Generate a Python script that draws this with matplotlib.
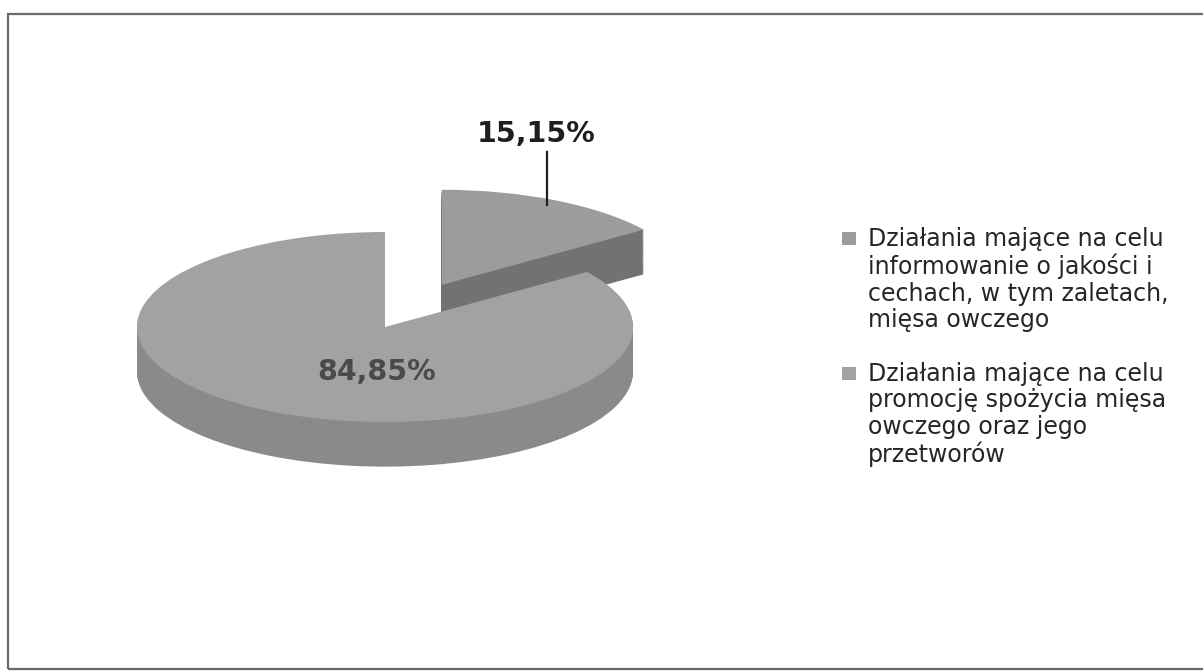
import matplotlib
matplotlib.use('Agg')
import matplotlib.pyplot as plt
from matplotlib.patches import Rectangle

# data
labels = [
    'Działania mające na celu\ninformowanie o jakości i\ncechach, w tym zaletach,\nmięsa owczego',
    'Działania mające na celu\npromocję spożycia mięsa\nowczego oraz jego\nprzetworów',
]
values = [15.15, 84.85]
explode = [0.5, 0.0]

top_colors = ['#9c9c9c', '#a2a2a2']
side_colors = ['#727272', '#8a8a8a']

plt.rcParams['font.family'] = ['DejaVu Sans']

W, H = 1203, 672
fig = plt.figure(figsize=(W / 100, H / 100), dpi=100)
fig.patch.set_facecolor('white')

# pie axes: x range 3 units -> 744 px, y range 4 units -> 380 px (squashed ellipse)
cx, cy = 385, 327
ax = fig.add_axes([(cx - 372) / W, (H - cy - 190) / H, 744 / W, 380 / H])

depth = 0.47
n_layers = 47
for i in range(n_layers + 1):
    off = -depth + depth * i / n_layers
    last = i == n_layers
    wedges, _ = ax.pie(values, explode=explode, startangle=90, counterclock=False,
                       colors=top_colors if last else side_colors,
                       center=(0, off), radius=1.0,
                       wedgeprops=dict(linewidth=0))
top_wedges = wedges

ax.set_aspect('auto')
ax.set_xlim(-1.5, 1.5)
ax.set_ylim(-2, 2)
ax.axis('off')

fmt = [f'{v:.2f}%'.replace('.', ',') for v in values]

# small slice label with leader line
ax.text(0.61, 2.03, fmt[0], ha='center', va='center', fontsize=20.5,
        fontweight='bold', color='#1e1e1e')
ax.plot([0.655, 0.655], [1.84, 1.28], color='#1e1e1e', lw=1.6)

# big slice label
ax.text(-0.036, -0.47, fmt[1], ha='center', va='center', fontsize=20.5,
        fontweight='bold', color='#4a4a4a')

# legend, square next to the first line of each entry
leg_x = 842
leg_base = [245, 380]
for wedge, lab, yb in zip(top_wedges, labels, leg_base):
    fig.patches.append(Rectangle((leg_x / W, 1 - yb / H), 14 / W, 13 / H,
                                 transform=fig.transFigure,
                                 facecolor=wedge.get_facecolor(), edgecolor='none'))
    fig.text((leg_x + 26) / W, 1 - (yb - 18) / H, lab, ha='left', va='top',
             fontsize=17, color='#262626', linespacing=1.13)

# outer frame of the chart area
fig.patches.append(Rectangle((8 / W, 3 / H), 1.0, (H - 17) / H,
                             transform=fig.transFigure, fill=False,
                             edgecolor='#6a6a6a', linewidth=1.6))

plt.savefig('out.png', dpi=100)
